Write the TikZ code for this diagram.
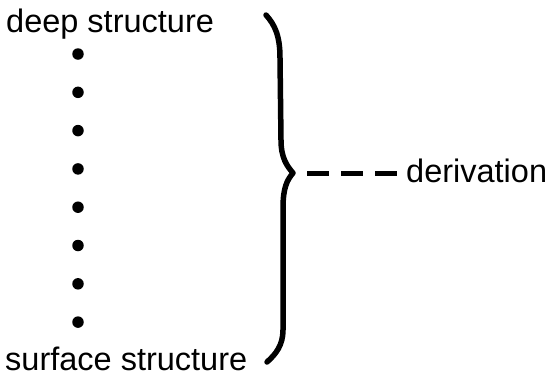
\documentclass[tikz,border=0pt]{standalone}
\usepackage{fontspec}
\setmainfont{Liberation Sans}
\begin{document}
\begin{tikzpicture}[x=1pt,y=-1pt,
  lbl/.style={inner sep=0pt,anchor=base west,font=\fontsize{32.5}{36}\selectfont},
  dotnode/.style={circle,fill=black,inner sep=0pt,minimum size=11.5pt},
  bracestroke/.style={line width=5.5pt,line cap=round,line join=round},
  dashconn/.style={line width=5pt,dash pattern=on 22pt off 12pt}]
\useasboundingbox (0,0) rectangle (547,376);
\node[lbl] (deep) at (6,32) {deep structure};
\node[lbl] (surf) at (5,370) {surface structure};
\node[lbl] (der) at (406,182) {derivation};
\foreach \i in {0,...,7} {
  \node[dotnode] (d\i) at (78,{54+38.3*\i}) {};
}
\coordinate (tip) at (293,173);
\draw[bracestroke] (266,15) .. controls (275,25) and (280,36) .. (280,58)
  -- (281,140) .. controls (281,158) and (287,166) .. (tip)
  .. controls (287,180) and (283,188) .. (283,208)
  -- (283,330) .. controls (283,345) and (276,354) .. (267,362);
\draw[dashconn] ([xshift=14pt]tip) -- ([xshift=-6pt]tip -| der.west);
\end{tikzpicture}
\end{document}
